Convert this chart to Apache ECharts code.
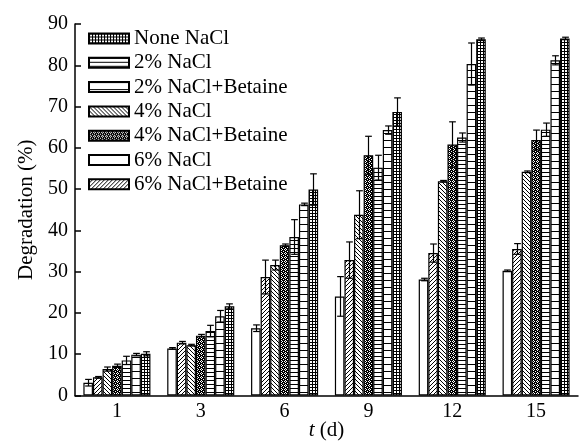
<!DOCTYPE html>
<html>
<head>
<meta charset="utf-8">
<script src="https://cdn.jsdelivr.net/npm/echarts@6/dist/echarts.min.js"></script>
<style>
  html, body { margin: 0; padding: 0; background: #fff; }
  #chart { width: 579px; height: 441px; }
</style>
</head>
<body>
<div id="chart"></div>
<script>
// ── data ──
const days = ['1', '3', '6', '9', '12', '15'];
const legendOrder = ['None NaCl', '2% NaCl', '2% NaCl+Betaine', '4% NaCl', '4% NaCl+Betaine', '6% NaCl', '6% NaCl+Betaine'];

const none    = [10.1, 21.6, 49.9, 68.7, 86.3, 86.5];
const noneErr = [0.5, 0.6, 3.8, 3.4, 0.3, 0.3];
const nacl2    = [8.5, 15.6, 38.4, 55.2, 62.5, 64.4];
const nacl2Err = [1.0, 1.4, 4.2, 3.0, 1.1, 1.6];
const nacl2B    = [9.9, 19.2, 46.3, 64.3, 80.3, 81.2];
const nacl2BErr = [0.3, 1.4, 0.3, 1.0, 5.1, 1.1];
const nacl4    = [6.4, 12.2, 31.6, 43.8, 51.9, 54.2];
const nacl4Err = [0.5, 0.2, 1.2, 5.8, 0.2, 0.2];
const nacl4B    = [7.2, 14.5, 36.4, 58.2, 60.8, 61.9];
const nacl4BErr = [0.4, 0.3, 0.3, 4.6, 5.5, 2.4];
const nacl6    = [3.1, 11.4, 16.3, 24.0, 28.1, 30.2];
const nacl6Err = [0.8, 0.2, 0.8, 4.8, 0.3, 0.2];
const nacl6B    = [4.4, 12.8, 28.7, 32.8, 34.5, 35.5];
const nacl6BErr = [0.2, 0.3, 4.1, 4.4, 2.2, 1.3];

// ── fill patterns ──
function pattern(kind) {
  const c = document.createElement('canvas');
  const px = (ctx, x, y, col) => { ctx.fillStyle = col; ctx.fillRect(x, y, 1, 1); };
  let ctx;
  if (kind === 'grid') {
    c.width = 3; c.height = 3; ctx = c.getContext('2d');
    ctx.fillStyle = '#fff'; ctx.fillRect(0, 0, 3, 3);
    ctx.fillStyle = '#000'; ctx.fillRect(0, 0, 3, 1); ctx.fillRect(0, 0, 1, 3);
  } else if (kind === 'hdense' || kind === 'hwide') {
    const h = kind === 'hdense' ? 4 : 7;
    c.width = 1; c.height = h; ctx = c.getContext('2d');
    ctx.fillStyle = '#fff'; ctx.fillRect(0, 0, 1, h);
    px(ctx, 0, 0, '#000');
  } else if (kind === 'back' || kind === 'fwd') {
    c.width = 4; c.height = 4; ctx = c.getContext('2d');
    ctx.fillStyle = '#fff'; ctx.fillRect(0, 0, 4, 4);
    for (let i = 0; i < 4; i++) px(ctx, kind === 'back' ? i : 3 - i, i, '#000');
  } else if (kind === 'dots') {
    c.width = 4; c.height = 4; ctx = c.getContext('2d');
    ctx.fillStyle = '#000'; ctx.fillRect(0, 0, 4, 4);
    [[1, 0], [0, 1], [2, 1], [1, 2], [3, 3]].forEach(p => px(ctx, p[0], p[1], '#fff'));
  } else {
    return '#fff';
  }
  return { image: c, repeat: 'repeat' };
}

// bar order within a group, left to right
const groups = [
  { name: '6% NaCl', data: nacl6, err: nacl6Err, fill: 'white' },
  { name: '6% NaCl+Betaine', data: nacl6B, err: nacl6BErr, fill: 'fwd' },
  { name: '4% NaCl', data: nacl4, err: nacl4Err, fill: 'back' },
  { name: '4% NaCl+Betaine', data: nacl4B, err: nacl4BErr, fill: 'dots' },
  { name: '2% NaCl', data: nacl2, err: nacl2Err, fill: 'hdense' },
  { name: '2% NaCl+Betaine', data: nacl2B, err: nacl2BErr, fill: 'hwide' },
  { name: 'None NaCl', data: none, err: noneErr, fill: 'grid' }
];
const nBars = groups.length;
const gapFrac = 0.2;

const errData = [];
groups.forEach((g, k) => g.data.forEach((v, i) => errData.push([i, k, v, g.err[i]])));

const font = 'Liberation Serif';
const chart = echarts.init(document.getElementById('chart'));

const series = groups.map(g => ({
  name: g.name, type: 'bar', data: g.data,
  barGap: '0%', barCategoryGap: (gapFrac * 100) + '%',
  itemStyle: { color: pattern(g.fill), borderColor: '#000', borderWidth: 1.2 },
  emphasis: { disabled: true }
}));

series.push({
  type: 'custom', data: errData, z: 10, silent: true,
  renderItem: function(params, api) {
    const cat = api.value(0), k = api.value(1), m = api.value(2), e = api.value(3);
    const catW = api.size([1, 0])[0];
    const bw = catW * (1 - gapFrac) / nBars;
    const x = Math.round(api.coord([cat, 0])[0] - catW * (1 - gapFrac) / 2 + (k + 0.5) * bw) + 0.5;
    const yHi = api.coord([cat, m + e])[1], yLo = api.coord([cat, m - e])[1];
    const cap = bw * 0.35;
    const st = { stroke: '#000', lineWidth: 1.2 };
    return { type: 'group', children: [
      { type: 'line', shape: { x1: x, y1: yHi, x2: x, y2: yLo }, style: st },
      { type: 'line', shape: { x1: x - cap, y1: yHi, x2: x + cap, y2: yHi }, style: st },
      { type: 'line', shape: { x1: x - cap, y1: yLo, x2: x + cap, y2: yLo }, style: st }
    ] };
  }
});

chart.setOption({
  animation: false,
  textStyle: { fontFamily: font, color: '#000' },
  grid: { left: 75, right: 1, top: 24, bottom: 45.5, outerBoundsMode: 'none', containLabel: false },
  legend: {
    data: legendOrder, orient: 'vertical', left: 83, top: 23,
    itemWidth: 40, itemHeight: 10, itemGap: 3.3, icon: 'rect',
    textStyle: { fontFamily: font, fontSize: 21, lineHeight: 21, color: '#000' },
    selectedMode: false
  },
  xAxis: {
    type: 'category', data: days,
    name: '{i|t} (d)', nameLocation: 'middle', nameGap: 24, nameMoveOverlap: false,
    nameTextStyle: { fontFamily: font, fontSize: 21, color: '#000', lineHeight: 21,
      rich: { i: { fontFamily: font, fontSize: 21, fontStyle: 'italic', color: '#000', lineHeight: 21 } } },
    axisLine: { lineStyle: { color: '#000', width: 1.5 } },
    axisTick: { show: false },
    axisLabel: { fontFamily: font, fontSize: 20, color: '#000', margin: 6 }
  },
  yAxis: {
    type: 'value', min: 0, max: 90, interval: 10,
    name: 'Degradation (%)', nameLocation: 'middle', nameGap: 38, nameMoveOverlap: false,
    nameTextStyle: { fontFamily: font, fontSize: 21, color: '#000' },
    axisLine: { show: true, lineStyle: { color: '#000', width: 1.5 } },
    axisTick: { show: true, inside: true, length: 6, lineStyle: { color: '#000', width: 1.5 } },
    axisLabel: { fontFamily: font, fontSize: 20, color: '#000', margin: 7 },
    splitLine: { show: false }
  },
  series: series
});
</script>
</body>
</html>
